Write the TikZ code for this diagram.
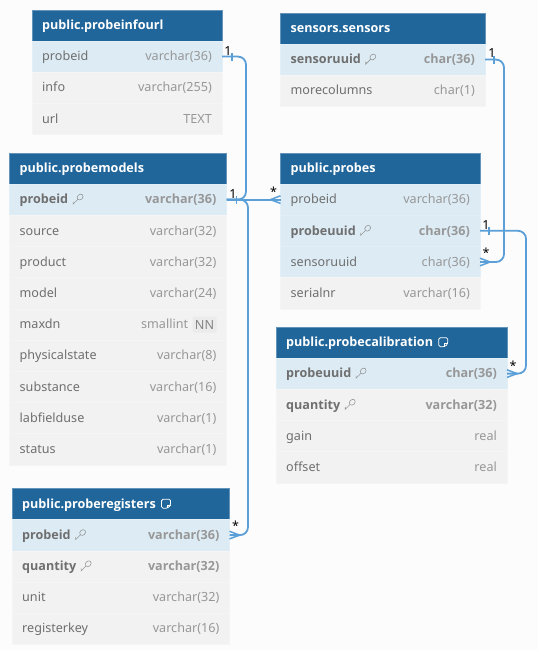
\documentclass[tikz,border=0pt]{standalone}
\usepackage{fontspec}
\setmainfont{Noto Sans}
\newfontfamily\boldfam{Open Sans}
\usetikzlibrary{positioning}
\definecolor{headblue}{HTML}{21669B}
\definecolor{keyrow}{HTML}{DCEBF4}
\definecolor{plainrow}{HTML}{F2F2F2}
\definecolor{namegrey}{HTML}{6F6F6F}
\definecolor{typegrey}{HTML}{979797}
\definecolor{linkblue}{HTML}{5B9FD8}
\newcommand{\w}{190pt}
% one column of a table: previous node, name, fill, text style, column, type
\newcommand{\field}[6]{
    \node[fieldbox, #3, below=0pt of #1] (#2) {};
    \node[#4name, anchor=base west] (#2-name) at ([shift={(10pt,-4.2pt)}]#2.west) {#5};
    \node[#4type, anchor=base east] (#2-type) at ([shift={(-10pt,-4.2pt)}]#2.east) {#6};
}
\newcommand{\keyfield}[4]{
    \field{#1}{#2}{#3}{key}{#4}{\fieldtype}
    \pic at ([shift={(9.5pt,4.5pt)}]#2-name.base east) {keyicon};
}
\newcommand{\fieldtype}{}
\begin{document}
\begin{tikzpicture}[x=1pt, y=-1pt,
    font=\fontsize{12.6pt}{14pt}\selectfont,
    title/.style={draw=headblue!70!white, line width=.4pt, fill=headblue, anchor=north west, minimum width=\w, minimum height=31pt, inner sep=0pt, outer sep=0pt},
    titletext/.style={text=white, font=\fontsize{12.6pt}{14pt}\selectfont\boldfam\bfseries, anchor=base west, inner sep=0pt},
    fieldbox/.style={minimum width=\w, minimum height=31.2pt, inner sep=0pt, outer sep=0pt},
    hl/.style={fill=keyrow, draw=keyrow!80!white, line width=.3pt},
    pl/.style={fill=plainrow, draw=plainrow!80!white, line width=.3pt},
    plainname/.style={text=namegrey, inner sep=0pt},
    plaintype/.style={text=typegrey, inner sep=0pt},
    keyname/.style={text=namegrey, font=\fontsize{12.6pt}{14pt}\selectfont\boldfam\bfseries, inner sep=0pt},
    keytype/.style={text=typegrey, font=\fontsize{12.6pt}{14pt}\selectfont\boldfam\bfseries, inner sep=0pt},
    link/.style={draw=linkblue, line width=1.8pt, rounded corners=8pt},
    tick/.style={draw=linkblue, line width=1.8pt},
    card/.style={text=black, font=\fontsize{12.5pt}{13pt}\selectfont, inner sep=0pt},
    keyicon/.pic={
        \draw[typegrey, line width=.6pt, rotate=45] (3.2pt,0pt) ellipse (3.2pt and 2.6pt);
        \draw[typegrey, line width=.6pt] (0pt,0pt) -- (-4.8pt,-4.8pt) -- (-4.8pt,-2.4pt);
    },
    noteicon/.pic={
        \draw[white, line width=.8pt, rounded corners=1.5pt] (-4.5pt,4.5pt) -- (4.5pt,4.5pt) -- (4.5pt,-1.5pt) -- (1.5pt,-4.5pt) -- (-4.5pt,-4.5pt) -- cycle;
        \draw[white, line width=.8pt] (1.5pt,-4.5pt) -- (1.5pt,-1.5pt) -- (4.5pt,-1.5pt);
    },
    crowfoot/.pic={
        \draw[linkblue, line width=1.5pt] (10pt,0pt) -- (0pt,3.8pt);
        \draw[linkblue, line width=1.5pt] (10pt,0pt) -- (0pt,-3.8pt);
    }]
    \useasboundingbox[fill=black!1] (0,0) rectangle (538,650);

    % public.probeinfourl
    \renewcommand{\w}{190pt}
    \node[title] (infourl) at (32,10) {};
    \node[titletext] (infourl-title) at ([shift={(10pt,-4.2pt)}]infourl.west) {public.probeinfourl};
    \field{infourl}{infourl-1}{hl}{plain}{probeid}{varchar(36)}
    \field{infourl-1}{infourl-2}{pl}{plain}{info}{varchar(255)}
    \field{infourl-2}{infourl-3}{pl}{plain}{url}{TEXT}

    % public.probemodels
    \renewcommand{\w}{217pt}
    \node[title] (models) at (9.5,153) {};
    \node[titletext] (models-title) at ([shift={(10pt,-4.2pt)}]models.west) {public.probemodels};
    \renewcommand{\fieldtype}{varchar(36)}
    \keyfield{models}{models-1}{hl}{probeid}
    \field{models-1}{models-2}{pl}{plain}{source}{varchar(32)}
    \field{models-2}{models-3}{pl}{plain}{product}{varchar(32)}
    \field{models-3}{models-4}{pl}{plain}{model}{varchar(24)}
    \field{models-4}{models-5}{pl}{plain}{maxdn}{\phantom{NN}}
    \node[fill=black!8, text=namegrey!85!white, rounded corners=1.5pt, inner sep=0pt, minimum width=24pt, minimum height=16pt] (models-nn) at ([xshift=-12pt,yshift=4pt]models-5-type.base east) {NN};
    \node[plaintype, anchor=base east] (models-small) at ([xshift=-4pt]models-nn.west |- models-5-type.base) {smallint};
    \field{models-5}{models-6}{pl}{plain}{physicalstate}{varchar(8)}
    \field{models-6}{models-7}{pl}{plain}{substance}{varchar(16)}
    \field{models-7}{models-8}{pl}{plain}{labfielduse}{varchar(1)}
    \field{models-8}{models-9}{pl}{plain}{status}{varchar(1)}

    % public.proberegisters
    \renewcommand{\w}{217.5pt}
    \node[title] (registers) at (12,488.5) {};
    \node[titletext] (registers-title) at ([shift={(10pt,-4.2pt)}]registers.west) {public.proberegisters};
    \pic at ([shift={(10pt,4.5pt)}]registers-title.base east) {noteicon};
    \renewcommand{\fieldtype}{varchar(36)}
    \keyfield{registers}{registers-1}{hl}{probeid}
    \renewcommand{\fieldtype}{varchar(32)}
    \keyfield{registers-1}{registers-2}{pl}{quantity}
    \field{registers-2}{registers-3}{pl}{plain}{unit}{varchar(32)}
    \field{registers-3}{registers-4}{pl}{plain}{registerkey}{varchar(16)}

    % sensors.sensors
    \renewcommand{\w}{204.5pt}
    \node[title] (sensors) at (280.5,13) {};
    \node[titletext] (sensors-title) at ([shift={(10pt,-4.2pt)}]sensors.west) {sensors.sensors};
    \renewcommand{\fieldtype}{char(36)}
    \keyfield{sensors}{sensors-1}{hl}{sensoruuid}
    \field{sensors-1}{sensors-2}{pl}{plain}{morecolumns}{char(1)}

    % public.probes
    \renewcommand{\w}{199.5pt}
    \node[title] (probes) at (280.5,153) {};
    \node[titletext] (probes-title) at ([shift={(10pt,-4.2pt)}]probes.west) {public.probes};
    \field{probes}{probes-1}{hl}{plain}{probeid}{varchar(36)}
    \renewcommand{\fieldtype}{char(36)}
    \keyfield{probes-1}{probes-2}{hl}{probeuuid}
    \field{probes-2}{probes-3}{hl}{plain}{sensoruuid}{char(36)}
    \field{probes-3}{probes-4}{pl}{plain}{serialnr}{varchar(16)}

    % public.probecalibration
    \renewcommand{\w}{231pt}
    \node[title] (calib) at (276,327) {};
    \node[titletext] (calib-title) at ([shift={(10pt,-4.2pt)}]calib.west) {public.probecalibration};
    \pic at ([shift={(10pt,4.5pt)}]calib-title.base east) {noteicon};
    \renewcommand{\fieldtype}{char(36)}
    \keyfield{calib}{calib-1}{hl}{probeuuid}
    \renewcommand{\fieldtype}{varchar(32)}
    \keyfield{calib-1}{calib-2}{pl}{quantity}
    \field{calib-2}{calib-3}{pl}{plain}{gain}{real}
    \field{calib-3}{calib-4}{pl}{plain}{offset}{real}

    % links
    \draw[link] (infourl-1.east) -- ([xshift=24pt]infourl-1.east) |- (models-1.east);
    \draw[link] (models-1.east) -- (probes-1.west);
    \draw[link] (models-1.east) -- ([xshift=21.5pt]models-1.east) |- (registers-1.east);
    \draw[link] (sensors-1.east) -- ([xshift=19pt]sensors-1.east) |- (probes-3.east);
    \draw[link] (probes-2.east) -- ([xshift=46pt]probes-2.east) |- (calib-1.east);

    % many side feet
    \pic[rotate=180] at (probes-1.west) {crowfoot};
    \pic at (registers-1.east) {crowfoot};
    \pic at (probes-3.east) {crowfoot};
    \pic at (calib-1.east) {crowfoot};

    % one side ticks
    \draw[tick] ([shift={(10pt,-4pt)}]infourl-1.east) -- ([shift={(10pt,4pt)}]infourl-1.east);
    \draw[tick] ([shift={(10pt,-4pt)}]models-1.east) -- ([shift={(10pt,4pt)}]models-1.east);
    \draw[tick] ([shift={(9pt,-4pt)}]sensors-1.east) -- ([shift={(9pt,4pt)}]sensors-1.east);
    \draw[tick] ([shift={(9pt,-4pt)}]probes-2.east) -- ([shift={(9pt,4pt)}]probes-2.east);

    % cardinalities
    \node[card] (card-infourl) at ([shift={(6pt,6pt)}]infourl-1.east) {1};
    \node[card] (card-models) at ([shift={(6.5pt,6pt)}]models-1.east) {1};
    \node[card] (card-probes) at ([shift={(-7pt,8pt)}]probes-1.west) {*};
    \node[card] (card-sensors) at ([shift={(7pt,6.5pt)}]sensors-1.east) {1};
    \node[card] (card-uuid) at ([shift={(6pt,6pt)}]probes-2.east) {1};
    \node[card] (card-sensoruuid) at ([shift={(6pt,9pt)}]probes-3.east) {*};
    \node[card] (card-calib) at ([shift={(6pt,7.5pt)}]calib-1.east) {*};
    \node[card] (card-registers) at ([shift={(6pt,9pt)}]registers-1.east) {*};

\end{tikzpicture}
\end{document}
